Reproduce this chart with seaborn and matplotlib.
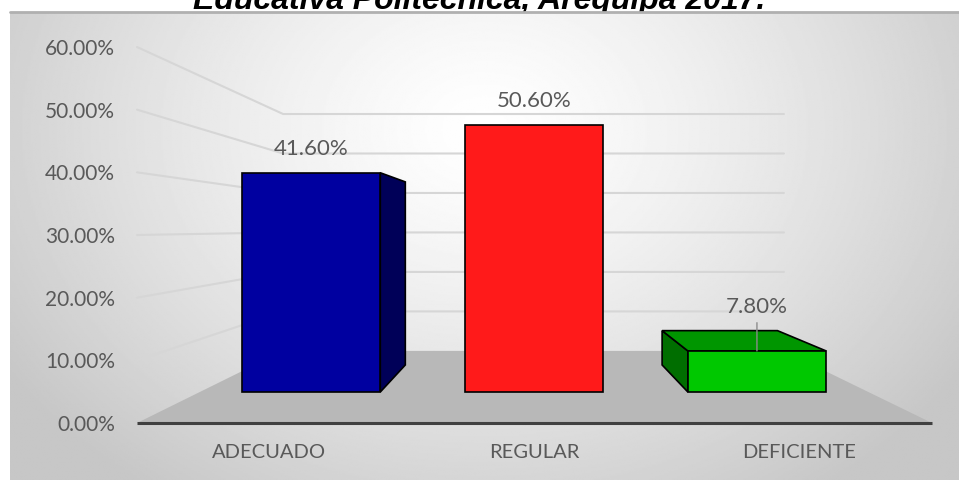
import numpy as np
import matplotlib
matplotlib.use("Agg")
import matplotlib.pyplot as plt
import matplotlib.colors as mcolors
from matplotlib.patches import Polygon
import seaborn as sns

# --- dados do grafico ---
categorias = ["ADECUADO", "REGULAR", "DEFICIENTE"]
porcentajes = [41.6, 50.6, 7.8]
ticks_y = [0, 10, 20, 30, 40, 50, 60]
titulo = "Educativa Politécnica, Arequipa 2017."

cores = ["#0000A0", "#FF1A1A", "#00C800"]
cor_texto = "#595959"

# --- perspectiva (imitando o 3D do Excel) ---
W, H = 959, 480
VP = (0.99, 31.1)      # ponto de fuga em coordenadas de dados
piso = 0.37            # profundidade do piso
frente_barras = 0.159  # plano frontal das barras
fundo_barras = 0.165   # profundidade das barras


def hacia_vp(x, y, t):
    return x + t * (VP[0] - x), y + t * (VP[1] - y)


sns.set_theme(style="white")
plt.rcParams["font.family"] = ["Lato", "DejaVu Sans"]

fig = plt.figure(figsize=(W / 100, H / 100), dpi=100)

# titulo (fica meio cortado pela area do grafico, como no original)
fig.text(0.5, 1 - 9 / H, titulo, ha="center", va="baseline", fontsize=23,
         fontweight="bold", fontstyle="italic", family="Liberation Sans",
         color="black", zorder=0)

# fundo com gradiente
bg = fig.add_axes([10 / W, 0, 1 - 10 / W, 468 / H], zorder=1)
yy, xx = np.mgrid[0:1:300j, 0:1:600j]
r = np.sqrt(((xx - 0.5) / 0.6) ** 2 + ((yy - 0.25) / 0.95) ** 2)
grad = 1 - 0.22 * np.clip(r, 0, 1) ** 1.3
bg.imshow(grad, cmap="gray", vmin=0, vmax=1, aspect="auto", extent=(0, 1, 0, 1))
bg.plot([0, 1], [1, 1], transform=bg.transAxes, color="#b0b0b0", lw=2, clip_on=False)
bg.axis("off")

# eixo principal: escala, piso e paredes
ax = fig.add_axes([137 / W, (H - 423) / H, (932 - 137) / W, (423 - 47) / H], zorder=2)
ax.patch.set_alpha(0)
ax.set_xlim(-0.5, 2.5)
ax.set_ylim(0, 60)
x0, x1 = ax.get_xlim()

piso_pts = [(x0, 0), (x1, 0), hacia_vp(x1, 0, piso), hacia_vp(x0, 0, piso)]
ax.add_patch(Polygon(piso_pts, closed=True, facecolor="#b8b8b8", edgecolor="none", zorder=1))
for v in ticks_y[1:]:
    bxl, byl = hacia_vp(x0, v, piso)
    bxr, byr = hacia_vp(x1, v, piso)
    ax.plot([x0, bxl, bxr], [v, byl, byr], color="#d6d6d6", lw=1.5, zorder=0.5, clip_on=False)
ax.plot([x0, x1], [0, 0], color="#404040", lw=2.2, solid_capstyle="butt", clip_on=False, zorder=3)

ax.set_yticks(ticks_y)
ax.set_yticklabels([f"{v:.2f}%" for v in ticks_y])
ax.set_xticks(range(len(categorias)))
ax.set_xticklabels(categorias)
ax.tick_params(length=0, colors=cor_texto)
ax.tick_params(axis="y", pad=16, labelsize=15)
ax.tick_params(axis="x", pad=15, labelsize=14.5)
sns.despine(ax=ax, left=True, bottom=True)

# eixo das barras: plano frontal encolhido em direcao ao ponto de fuga
esc = 1 - frente_barras
axb = fig.add_axes(ax.get_position(), zorder=3)
sns.barplot(x=categorias, y=porcentajes, hue=categorias, palette=cores, legend=False,
            saturation=1, width=0.62, edgecolor="black", linewidth=1.2, ax=axb, zorder=3)
axb.set_xlim([VP[0] + (l - VP[0]) / esc for l in ax.get_xlim()])
axb.set_ylim([VP[1] + (l - VP[1]) / esc for l in ax.get_ylim()])
axb.axis("off")

for barra, cor, v in zip(axb.patches, cores, porcentajes):
    xa, xb = barra.get_x(), barra.get_x() + barra.get_width()
    ya, yb = barra.get_y(), barra.get_y() + barra.get_height()
    fr = {"bl": (xa, ya), "br": (xb, ya), "tl": (xa, yb), "tr": (xb, yb)}
    tr = {k: hacia_vp(*p, fundo_barras) for k, p in fr.items()}
    rgb = np.array(mcolors.to_rgb(cor))
    lado = None
    if xb < VP[0]:
        lado = [fr["br"], fr["tr"], tr["tr"], tr["br"]]
    elif xa > VP[0]:
        lado = [fr["bl"], fr["tl"], tr["tl"], tr["bl"]]
    if lado:
        axb.add_patch(Polygon(lado, closed=True, facecolor=rgb * 0.55, edgecolor="black",
                              lw=1.2, zorder=2))
    topo_visivel = yb < VP[1]
    if topo_visivel:
        topo = [fr["tl"], fr["tr"], tr["tr"], tr["tl"]]
        axb.add_patch(Polygon(topo, closed=True, facecolor=rgb * 0.75, edgecolor="black",
                              lw=1.2, zorder=2))

    cx = (xa + xb) / 2
    ref = tr["tl"][1] if topo_visivel else yb
    dy = axb.transData.transform((cx, ref))[1] - axb.transData.transform((cx, yb))[1]
    off = (dy + 24) * 72 / 100
    seta = dict(arrowstyle="-", color="#8c8c8c", lw=1, shrinkB=0) if topo_visivel else None
    axb.annotate(f"{v:.2f}%", (cx, yb), xytext=(0, off), textcoords="offset points",
                 ha="center", va="center", fontsize=16, color=cor_texto,
                 arrowprops=seta, zorder=5)

fig.savefig("out.png", dpi=100)
